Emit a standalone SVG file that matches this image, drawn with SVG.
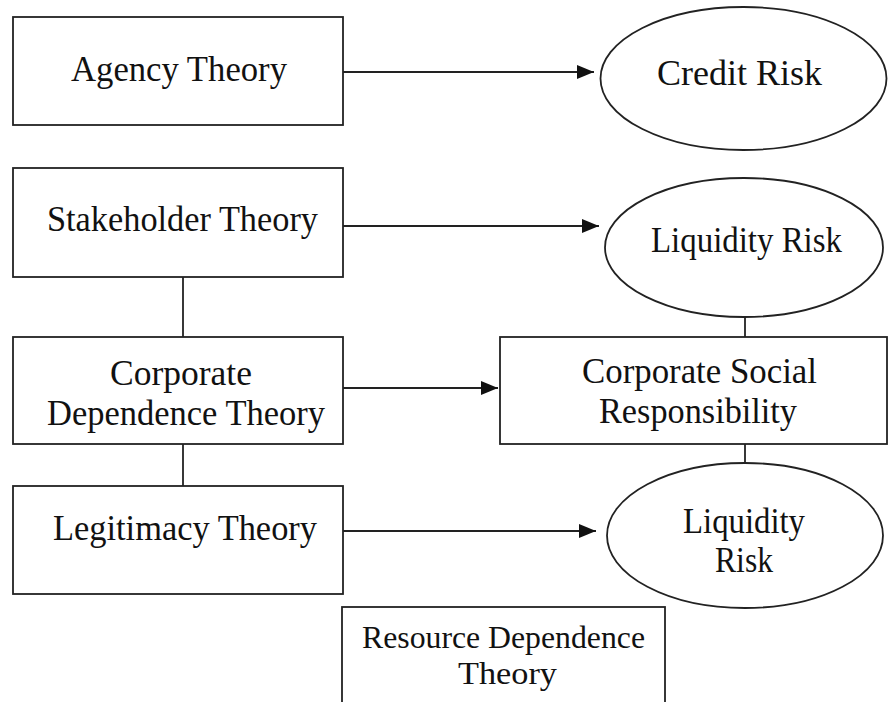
<svg xmlns="http://www.w3.org/2000/svg" width="888" height="702" viewBox="0 0 888 702">
  <style>
    .box { fill: #ffffff; stroke: #222222; stroke-width: 1.8; }
    .edge { fill: none; stroke: #222222; stroke-width: 1.8; }
    .lbl { font-family: "Liberation Serif", "Times New Roman", serif; font-size: 36px; fill: #111111; text-anchor: middle; }
    .sm { font-size: 32px; }
  </style>
  <defs>
    <marker id="arrow" markerUnits="userSpaceOnUse" markerWidth="18" markerHeight="16" refX="17" refY="8" orient="auto">
      <path d="M0,1 L17,8 L0,15 Z" fill="#111111"/>
    </marker>
  </defs>
  <rect width="888" height="702" fill="#ffffff"/>

  <g id="connectors">
    <line class="edge" x1="343" y1="72" x2="594" y2="72" marker-end="url(#arrow)"/>
    <line class="edge" x1="343" y1="226" x2="599" y2="226" marker-end="url(#arrow)"/>
    <line class="edge" x1="343" y1="388" x2="498" y2="388" marker-end="url(#arrow)"/>
    <line class="edge" x1="343" y1="531" x2="596" y2="531" marker-end="url(#arrow)"/>
    <line class="edge" x1="183" y1="277" x2="183" y2="337"/>
    <line class="edge" x1="183" y1="444" x2="183" y2="486"/>
    <line class="edge" x1="745" y1="317" x2="745" y2="337"/>
    <line class="edge" x1="745" y1="444" x2="745" y2="463"/>
  </g>

  <g id="agency-theory">
    <rect class="box" x="13" y="17" width="330" height="108"/>
    <text class="lbl" x="179" y="81" textLength="216" lengthAdjust="spacingAndGlyphs">Agency Theory</text>
  </g>

  <g id="credit-risk">
    <ellipse class="box" cx="743.5" cy="78.5" rx="143" ry="71.5"/>
    <text class="lbl" x="739.5" y="85" textLength="165" lengthAdjust="spacingAndGlyphs">Credit Risk</text>
  </g>

  <g id="stakeholder-theory">
    <rect class="box" x="13" y="168" width="330" height="109"/>
    <text class="lbl" x="182.5" y="231" textLength="271" lengthAdjust="spacingAndGlyphs">Stakeholder Theory</text>
  </g>

  <g id="liquidity-risk-1">
    <ellipse class="box" cx="744" cy="247.5" rx="139" ry="69.5"/>
    <text class="lbl" x="746.5" y="252" textLength="191" lengthAdjust="spacingAndGlyphs">Liquidity Risk</text>
  </g>

  <g id="corporate-dependence-theory">
    <rect class="box" x="13" y="337" width="330" height="107"/>
    <text class="lbl" x="181" y="385" textLength="142" lengthAdjust="spacingAndGlyphs">Corporate</text>
    <text class="lbl" x="186" y="425" textLength="278" lengthAdjust="spacingAndGlyphs">Dependence Theory</text>
  </g>

  <g id="corporate-social-responsibility">
    <rect class="box" x="500" y="337" width="387" height="107"/>
    <text class="lbl" x="699.5" y="383" textLength="235" lengthAdjust="spacingAndGlyphs">Corporate Social</text>
    <text class="lbl" x="698" y="423" textLength="198" lengthAdjust="spacingAndGlyphs">Responsibility</text>
  </g>

  <g id="legitimacy-theory">
    <rect class="box" x="13" y="486" width="330" height="108"/>
    <text class="lbl" x="185" y="540" textLength="264" lengthAdjust="spacingAndGlyphs">Legitimacy Theory</text>
  </g>

  <g id="liquidity-risk-2">
    <ellipse class="box" cx="745" cy="535.5" rx="138" ry="72.5"/>
    <text class="lbl" x="744" y="533" textLength="122" lengthAdjust="spacingAndGlyphs">Liquidity</text>
    <text class="lbl" x="744" y="572" textLength="58" lengthAdjust="spacingAndGlyphs">Risk</text>
  </g>

  <g id="resource-dependence-theory">
    <rect class="box" x="342" y="607" width="323" height="130"/>
    <text class="lbl sm" x="503.5" y="648" textLength="283" lengthAdjust="spacingAndGlyphs">Resource Dependence</text>
    <text class="lbl sm" x="507.5" y="684" textLength="99" lengthAdjust="spacingAndGlyphs">Theory</text>
  </g>
</svg>
